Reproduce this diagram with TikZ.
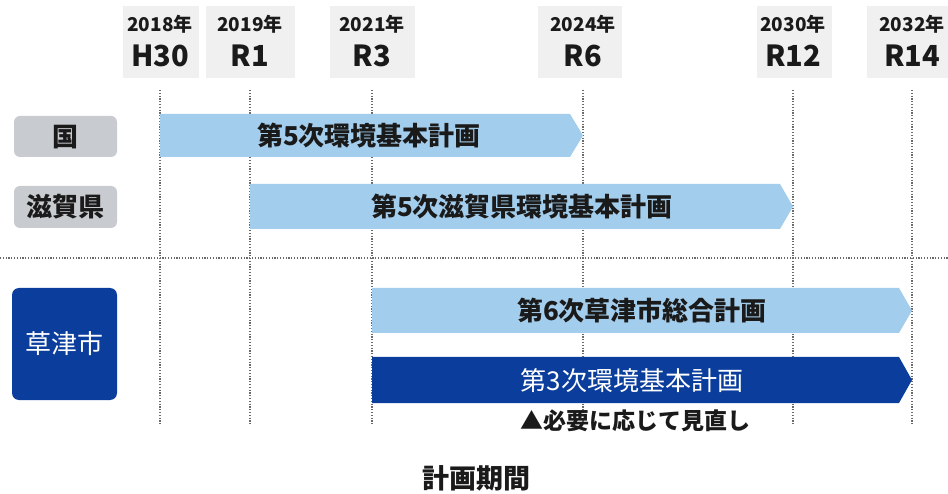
\documentclass[tikz,border=0pt]{standalone}
\usepackage{fontspec}
\setmainfont{Noto Sans CJK JP}
\definecolor{hdrgray}{HTML}{F0F0F0}
\definecolor{lblgray}{HTML}{C8CBCF}
\definecolor{lightbar}{HTML}{A3CDEC}
\definecolor{darkbar}{HTML}{0A3D9C}
\definecolor{dotgray}{HTML}{6A6A6A}
\definecolor{txt}{HTML}{1A1A1A}
\tikzset{
  hdrbox/.style={fill=hdrgray, draw=none},
  yeartxt/.style={font=\fontsize{19}{20}\selectfont\bfseries, text=txt, inner sep=0pt},
  eratxt/.style={font=\fontsize{29}{30}\selectfont\bfseries, text=txt, inner sep=0pt},
  gridline/.style={dotgray, line width=1.5pt, dash pattern=on 1.2pt off 1.6pt},
  graylbl/.style={fill=lblgray, rounded corners=6pt, draw=none},
  lbltxt/.style={font=\fontsize{26}{27}\selectfont\bfseries, text=txt, inner sep=0pt},
  lightbarsty/.style={fill=lightbar, draw=none},
  darkbarsty/.style={fill=darkbar, draw=none},
  bartxt/.style={font=\fontsize{26}{27}\selectfont\bfseries, text=txt, inner sep=0pt},
}
\begin{document}
\begin{tikzpicture}[x=1pt,y=-1pt]
\useasboundingbox (0,0) rectangle (948,494);
\fill[white] (0,0) rectangle (948,494);

% header boxes
\fill[hdrbox] (123,6) rectangle (199,78);
\fill[hdrbox] (206,6) rectangle (295,78);
\fill[hdrbox] (330,6) rectangle (415,78);
\fill[hdrbox] (538,6) rectangle (622,78);
\fill[hdrbox] (757,6) rectangle (832,78);
\fill[hdrbox] (867,6) rectangle (948,78);

% year labels
\node[yeartxt] (y1) at (160,24) {2018年};
\node[eratxt]  (e1) at (160,56) {H30};
\node[yeartxt] (y2) at (250,24) {2019年};
\node[eratxt]  (e2) at (250,56) {R1};
\node[yeartxt] (y3) at (372,24) {2021年};
\node[eratxt]  (e3) at (372,56) {R3};
\node[yeartxt] (y4) at (583,24) {2024年};
\node[eratxt]  (e4) at (583,56) {R6};
\node[yeartxt] (y5) at (793,24) {2030年};
\node[eratxt]  (e5) at (793,56) {R12};
\node[yeartxt] (y6) at (912,24) {2032年};
\node[eratxt]  (e6) at (912,56) {R14};

% grid lines
\foreach \x in {160,250,372,583,793,912}{
  \draw[gridline] (\x,90) -- (\x,425);
}
\draw[gridline] (0,258) -- (948,258);

% left labels
\fill[graylbl] (14,116) rectangle (117,157);
\node[lbltxt] (kuni) at (65.5,137) {国};
\fill[graylbl] (14,186) rectangle (117,228);
\node[lbltxt] (shiga) at (65.5,207) {滋賀県};
\fill[darkbar, rounded corners=7pt] (12,288) rectangle (117,400);
\node[lbltxt, text=white, font=\fontsize{26}{27}\selectfont] (kusatsu) at (64.5,344) {草津市};

% bars
\fill[lightbarsty] (160,114) -- (570,114) -- (583,135.5) -- (570,157) -- (160,157) -- cycle;
\node[bartxt] (b1) at (369,136) {第5次環境基本計画};
\fill[lightbarsty] (250,184) -- (780,184) -- (793,206.5) -- (780,229) -- (250,229) -- cycle;
\node[bartxt] (b2) at (522,207) {第5次滋賀県環境基本計画};
\fill[lightbarsty] (372,288) -- (899,288) -- (912,310.5) -- (899,333) -- (372,333) -- cycle;
\node[bartxt] (b3) at (642,311) {第6次草津市総合計画};
\fill[darkbarsty] (372,357) -- (899,357) -- (912,380) -- (899,403) -- (372,403) -- cycle;
\node[bartxt, text=white, font=\fontsize{26}{27}\selectfont] (b4) at (632,381) {第3次環境基本計画};

% notes
\node[font=\fontsize{23}{24}\selectfont\bfseries, text=txt, inner sep=0pt] (note) at (635,421) {▲必要に応じて見直し};
\node[font=\fontsize{27}{28}\selectfont\bfseries, text=txt, inner sep=0pt] (period) at (476,478) {計画期間};
\end{tikzpicture}
\end{document}
